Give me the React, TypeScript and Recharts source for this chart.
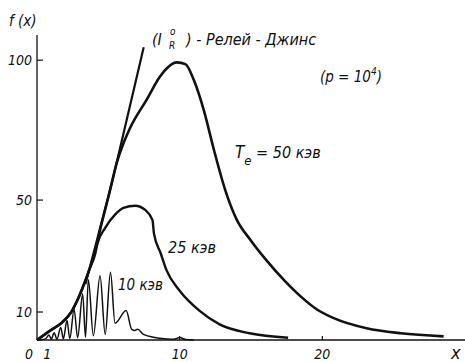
import { LineChart, Line, XAxis, YAxis } from 'recharts';

// Rayleigh-Jeans straight part
const rjX = [3.4, 5.29, 7.48];
const rjF = [20, 57, 104.6];

// T_e = 50 keV
const te50X = [0, 1.0, 1.7, 2.4, 2.9, 3.36, 3.7, 4.06, 4.5, 5.0, 5.6, 6.0, 6.5, 7.7, 8.6, 9.2, 9.8, 10.4, 11.0, 11.7, 12.4, 13.2, 14.0, 15.0, 16.0, 17.3, 18.5, 19.6, 20.8, 23.1, 25.5, 28.5];
const te50F = [0, 3.6, 6, 10, 15, 20.8, 25.6, 31.5, 41, 51, 63.5, 69.5, 75.5, 86, 94, 97.6, 99.2, 98.6, 92.8, 82, 68, 53.5, 43, 35.5, 29, 21.5, 15.5, 11, 7.8, 4.2, 2.4, 1.3];

// 25 keV
const te25X = [0, 1.0, 1.7, 2.4, 2.9, 3.36, 3.7, 4.06, 4.24, 4.77, 5.47, 6.06, 6.88, 7.58, 8.09, 8.2, 8.67, 9.1, 10.0, 11.4, 12.8, 14.9, 17.6];
const te25F = [0, 3.6, 6, 10, 15, 20.8, 25.6, 30.4, 34.5, 40, 44.8, 47.2, 48, 46.5, 42.9, 38, 31, 24.7, 17.6, 10.4, 5.6, 2.4, 0.8];

// 10 keV (oscillating)
const te10X = [0, 0.6, 0.84, 1.0, 1.2, 1.4, 1.66, 1.85, 2.1, 2.3, 2.6, 2.85, 3.2, 3.4, 3.6, 3.95, 4.42, 4.78, 5.15, 5.47, 6.25, 6.64, 6.85, 7.05, 7.46, 8.16, 9.1, 9.6, 10.0, 10.4, 11.0];
const te10F = [0, 0.4, 1.8, 0.3, 2.6, 0.3, 4.5, 0.4, 7, 0.5, 11, 0.8, 16.5, 1, 21.5, 1.5, 23, 2, 24.2, 6, 10.5, 3.8, 3.4, 3.8, 2, 1, 0.4, 0.3, 0.9, 0.2, 0];

const xTicks = [0, 1, 10, 20];
const yTicks = [10, 50, 100];

const toPoints = (xs: number[], fs: number[]) => xs.map((x, i) => ({ x, f: fs[i] }));

const FONT = "'DejaVu Sans Condensed', 'DejaVu Sans', sans-serif";
const INK = '#111';

function XTick(props: any) {
  const { x, y, payload } = props;
  const v = payload.value;
  const dx = v === 0 ? -8 : v === 1 ? -4 : 0;
  return (
    <g>
      {v >= 10 && <line x1={x} x2={x} y1={y} y2={y - 4} stroke={INK} strokeWidth={1.2} />}
      <text x={x + dx} y={y + 19} textAnchor="middle" fontFamily={FONT} fontStyle="italic" fontSize={14} fill={INK}>
        {v}
      </text>
    </g>
  );
}

function YTick(props: any) {
  const { x, y, payload } = props;
  return (
    <g>
      <line x1={x} x2={x + 6} y1={y} y2={y} stroke={INK} strokeWidth={1.2} />
      <text x={x - 5} y={y + 5} textAnchor="end" fontFamily={FONT} fontStyle="italic" fontSize={14} fill={INK}>
        {payload.value}
      </text>
    </g>
  );
}

export default function App() {
  const txt = { fontFamily: FONT, fontStyle: 'italic' as const, fill: INK };
  return (
    <div style={{ position: 'absolute', left: 0, top: 0, width: 465, height: 362, background: '#fff' }}>
      <LineChart width={465} height={362} margin={{ top: 35, right: 0, bottom: 0, left: 0 }}>
        <XAxis
          type="number"
          dataKey="x"
          domain={[0, 30]}
          ticks={xTicks}
          height={22}
          tickSize={0}
          tickMargin={0}
          tickLine={false}
          axisLine={{ stroke: INK, strokeWidth: 1.3 }}
          tick={<XTick />}
        />
        <YAxis
          type="number"
          domain={[0, 109]}
          ticks={yTicks}
          width={37}
          tickSize={0}
          tickMargin={0}
          tickLine={false}
          axisLine={{ stroke: INK, strokeWidth: 1.3 }}
          tick={<YTick />}
        />
        <Line data={toPoints(te10X, te10F)} dataKey="f" type="monotone" stroke={INK} strokeWidth={1.5} dot={false} activeDot={false} isAnimationActive={false} />
        <Line data={toPoints(te25X, te25F)} dataKey="f" type="monotone" stroke={INK} strokeWidth={2.4} dot={false} activeDot={false} isAnimationActive={false} />
        <Line data={toPoints(te50X, te50F)} dataKey="f" type="monotone" stroke={INK} strokeWidth={2.6} dot={false} activeDot={false} isAnimationActive={false} />
        <Line data={toPoints(rjX, rjF)} dataKey="f" type="linear" stroke={INK} strokeWidth={2.2} dot={false} activeDot={false} isAnimationActive={false} />
      </LineChart>
      <svg width={465} height={362} style={{ position: 'absolute', left: 0, top: 0, pointerEvents: 'none' }}>
        <text x={9} y={26} fontSize={15} {...txt}>f (x)</text>
        <text x={152} y={45} fontSize={16} {...txt}>(I</text>
        <text x={170} y={35} fontSize={10} {...txt}>o</text>
        <text x={169} y={49} fontSize={10} {...txt}>R</text>
        <text x={186} y={45} fontSize={16} {...txt}>) - Релей - Джинс</text>
        <text x={320} y={82} fontSize={15} {...txt}>
          (p = 10<tspan dy={-7} fontSize={10}>4</tspan><tspan dy={7}>)</tspan>
        </text>
        <text x={235} y={158} fontSize={17} {...txt}>
          T<tspan dy={7} fontSize={13}>e</tspan><tspan dy={-7} fontSize={16}> = 50 кэв</tspan>
        </text>
        <text x={168} y={253} fontSize={16} {...txt}>25 кэв</text>
        <text x={118} y={290} fontSize={15} {...txt}>10 кэв</text>
        <text x={451} y={359} fontSize={18} {...txt}>x</text>
      </svg>
    </div>
  );
}
